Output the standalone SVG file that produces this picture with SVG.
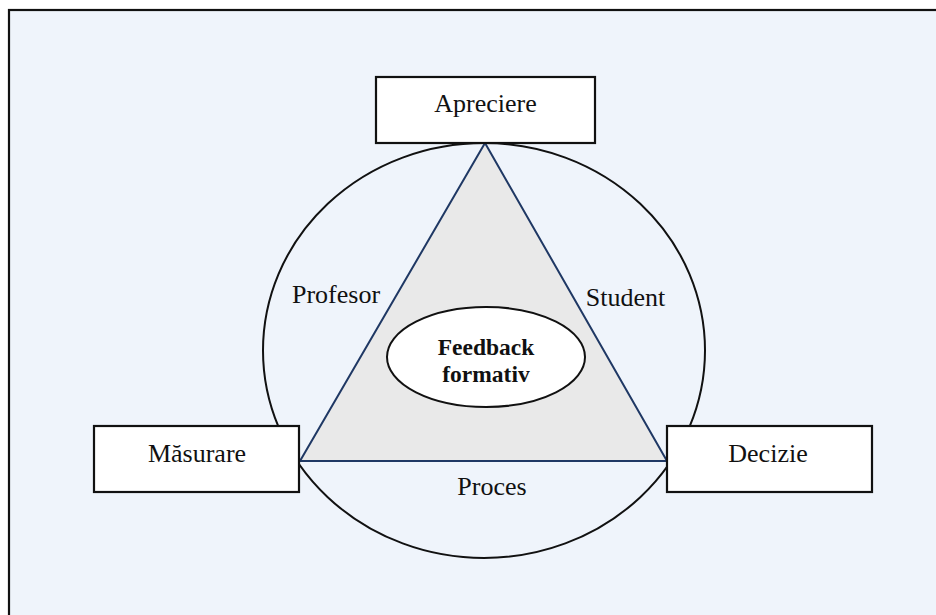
<svg xmlns="http://www.w3.org/2000/svg" width="936" height="615" viewBox="0 0 936 615">
  <style>
    .box { fill: #ffffff; stroke: #111111; stroke-width: 2.2; }
    .lbl { font-family: "Liberation Serif", "Times New Roman", serif; font-size: 26px; fill: #111111; text-anchor: middle; }
    .bold { font-family: "Liberation Serif", "Times New Roman", serif; font-size: 23.5px; font-weight: bold; fill: #111111; text-anchor: middle; }
  </style>
  <rect x="0" y="0" width="936" height="615" fill="#ffffff"/>
  <rect x="9" y="10" width="940" height="620" fill="#eff4fb" stroke="#111111" stroke-width="2.2"/>

  <g id="connectors">
    <ellipse cx="484" cy="350.5" rx="221" ry="207.5" fill="none" stroke="#111111" stroke-width="2"/>
    <polygon points="485,143 300,461 667,461" fill="#e9e9e9" stroke="#1f3864" stroke-width="2"/>
  </g>

  <g id="center">
    <ellipse cx="486" cy="357" rx="99" ry="50" fill="#ffffff" stroke="#111111" stroke-width="2"/>
    <text class="bold" x="486" y="355">Feedback</text>
    <text class="bold" x="486" y="382">formativ</text>
  </g>

  <g id="apreciere">
    <rect class="box" x="376" y="77" width="219" height="66"/>
    <text class="lbl" x="485.5" y="112">Apreciere</text>
  </g>

  <g id="masurare">
    <rect class="box" x="94" y="426" width="205" height="66"/>
    <text class="lbl" x="197" y="462">Măsurare</text>
  </g>

  <g id="decizie">
    <rect class="box" x="667" y="426" width="205" height="66"/>
    <text class="lbl" x="768" y="462">Decizie</text>
  </g>

  <g id="edge-labels">
    <text class="lbl" x="336" y="303">Profesor</text>
    <text class="lbl" x="625.5" y="306">Student</text>
    <text class="lbl" x="492" y="495">Proces</text>
  </g>
</svg>
